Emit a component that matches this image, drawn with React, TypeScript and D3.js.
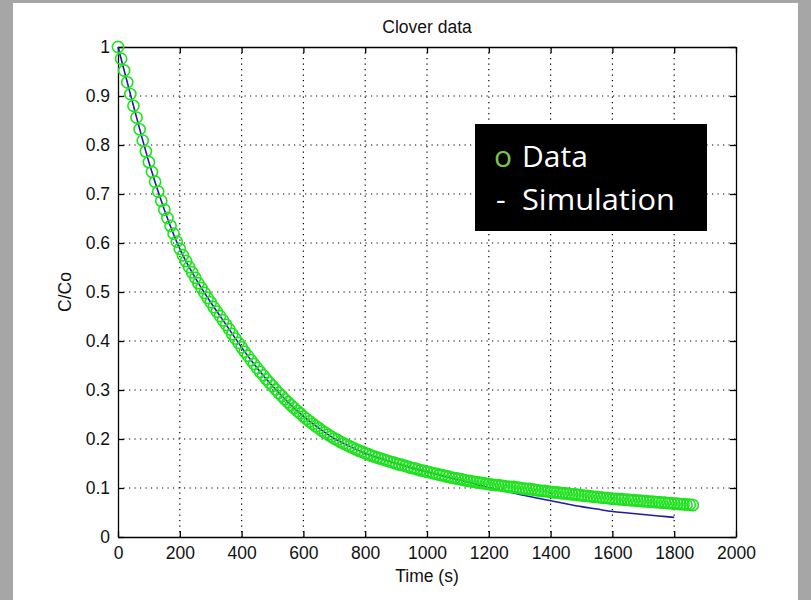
import { useEffect, useRef } from "react";
import * as d3 from "d3";

// measured data (C/Co vs time, every 10 s)
const dataTime = [
  0, 10, 20, 30, 40, 50, 60, 70, 80, 90, 100, 110, 120, 130, 140, 150, 160, 170, 180, 190,
  200, 210, 220, 230, 240, 250, 260, 270, 280, 290, 300, 310, 320, 330, 340, 350, 360, 370, 380, 390,
  400, 410, 420, 430, 440, 450, 460, 470, 480, 490, 500, 510, 520, 530, 540, 550, 560, 570, 580, 590,
  600, 610, 620, 630, 640, 650, 660, 670, 680, 690, 700, 710, 720, 730, 740, 750, 760, 770, 780, 790,
  800, 810, 820, 830, 840, 850, 860, 870, 880, 890, 900, 910, 920, 930, 940, 950, 960, 970, 980, 990,
  1000, 1010, 1020, 1030, 1040, 1050, 1060, 1070, 1080, 1090, 1100, 1110, 1120, 1130, 1140, 1150, 1160, 1170, 1180, 1190,
  1200, 1210, 1220, 1230, 1240, 1250, 1260, 1270, 1280, 1290, 1300, 1310, 1320, 1330, 1340, 1350, 1360, 1370, 1380, 1390,
  1400, 1410, 1420, 1430, 1440, 1450, 1460, 1470, 1480, 1490, 1500, 1510, 1520, 1530, 1540, 1550, 1560, 1570, 1580, 1590,
  1600, 1610, 1620, 1630, 1640, 1650, 1660, 1670, 1680, 1690, 1700, 1710, 1720, 1730, 1740, 1750, 1760, 1770, 1780, 1790,
  1800, 1810, 1820, 1830, 1840, 1850, 1860,
];
const dataValue = [
  1.0, 0.976, 0.952, 0.928, 0.904, 0.88, 0.856, 0.832, 0.809, 0.787, 0.765, 0.745, 0.725, 0.705, 0.686, 0.668, 0.651, 0.635, 0.619, 0.603,
  0.588, 0.575, 0.563, 0.551, 0.54, 0.529, 0.518, 0.508, 0.498, 0.488, 0.479, 0.469, 0.46, 0.451, 0.442, 0.433, 0.424, 0.414, 0.405, 0.396,
  0.387, 0.378, 0.37, 0.361, 0.353, 0.345, 0.337, 0.33, 0.322, 0.315, 0.308, 0.301, 0.294, 0.288, 0.281, 0.275, 0.269, 0.263, 0.257, 0.252,
  0.246, 0.241, 0.236, 0.231, 0.226, 0.222, 0.217, 0.213, 0.209, 0.205, 0.201, 0.198, 0.194, 0.191, 0.188, 0.185, 0.182, 0.179, 0.176, 0.174,
  0.171, 0.169, 0.166, 0.164, 0.162, 0.16, 0.158, 0.156, 0.154, 0.152, 0.15, 0.148, 0.147, 0.145, 0.143, 0.141, 0.14, 0.138, 0.136, 0.135,
  0.133, 0.132, 0.13, 0.129, 0.127, 0.126, 0.124, 0.123, 0.121, 0.12, 0.119, 0.118, 0.116, 0.115, 0.114, 0.113, 0.112, 0.111, 0.11, 0.109,
  0.108, 0.107, 0.106, 0.106, 0.105, 0.104, 0.103, 0.102, 0.102, 0.101, 0.1, 0.099, 0.098, 0.098, 0.097, 0.096, 0.095, 0.094, 0.094, 0.093,
  0.092, 0.091, 0.091, 0.09, 0.089, 0.089, 0.088, 0.087, 0.087, 0.086, 0.085, 0.084, 0.084, 0.083, 0.082, 0.082, 0.081, 0.08, 0.08, 0.079,
  0.078, 0.078, 0.077, 0.077, 0.076, 0.076, 0.075, 0.075, 0.074, 0.074, 0.073, 0.073, 0.072, 0.072, 0.071, 0.071, 0.07, 0.07, 0.069, 0.069,
  0.068, 0.068, 0.067, 0.067, 0.066, 0.066, 0.065,
];

// simulation curve
const simTime = [
  0, 50, 100, 150, 200, 250, 300, 350, 400, 450, 500, 550, 600, 650, 700, 750, 800, 850, 900, 950,
  1000, 1050, 1100, 1150, 1200, 1250, 1300, 1350, 1400, 1450, 1500, 1550, 1600, 1650, 1700, 1750, 1800,
];
const simValue = [
  1.0, 0.88, 0.765, 0.668, 0.588, 0.529, 0.479, 0.433, 0.387, 0.345, 0.308, 0.275, 0.246, 0.222, 0.201, 0.185, 0.171, 0.16, 0.15, 0.141,
  0.133, 0.125, 0.117, 0.109, 0.101, 0.094, 0.087, 0.08, 0.074, 0.068, 0.062, 0.057, 0.052, 0.049, 0.046, 0.043, 0.04,
];

const xTicks = [0, 200, 400, 600, 800, 1000, 1200, 1400, 1600, 1800, 2000];
const yTicks = [0, 0.1, 0.2, 0.3, 0.4, 0.5, 0.6, 0.7, 0.8, 0.9, 1];

const W = 811;
const H = 600;
const FONT = "'Liberation Sans', Arial, sans-serif";
const LEGEND_FONT = "'Open Sans', 'Noto Sans', sans-serif";

export default function App() {
  const ref = useRef<SVGSVGElement | null>(null);

  useEffect(() => {
    const svg = d3.select(ref.current);
    svg.selectAll("*").remove();

    const left = 118, right = 736, top = 47, bottom = 537;
    const x = d3.scaleLinear().domain([0, 2000]).range([left, right]);
    const y = d3.scaleLinear().domain([0, 1]).range([bottom, top]);

    // slide background: grey frame, white page
    svg.append("rect").attr("width", W).attr("height", H).attr("fill", "#a6a6a6");
    svg.append("rect").attr("x", 13).attr("y", 3).attr("width", 785).attr("height", H - 3).attr("fill", "#ffffff");

    // dotted grid
    const grid = svg.append("g").attr("stroke", "#000").attr("stroke-width", 1.2).attr("stroke-dasharray", "1.2,4.3");
    grid.selectAll("line.v").data(xTicks.slice(1, -1)).join("line")
      .attr("x1", (d) => x(d)).attr("x2", (d) => x(d)).attr("y1", top).attr("y2", bottom);
    grid.selectAll("line.h").data(yTicks.slice(1, -1)).join("line")
      .attr("class", "h")
      .attr("y1", (d) => y(d)).attr("y2", (d) => y(d)).attr("x1", left).attr("x2", right);

    // axes (ticks point inward, box on)
    const styleAxis = (g: any) => {
      g.selectAll("path").attr("stroke", "#000").attr("stroke-width", 1.3);
      g.selectAll("line").attr("stroke", "#000").attr("stroke-width", 1.3);
      g.selectAll("text").attr("fill", "#111").attr("font-family", FONT).attr("font-size", 17.5);
    };
    svg.append("g").attr("transform", `translate(0,${bottom})`)
      .call(d3.axisBottom(x).tickValues(xTicks).tickSizeInner(-6).tickSizeOuter(0).tickPadding(10).tickFormat(d3.format("d")))
      .call(styleAxis);
    svg.append("g").attr("transform", `translate(${left},0)`)
      .call(d3.axisLeft(y).tickValues(yTicks).tickSizeInner(-6).tickSizeOuter(0).tickPadding(8).tickFormat((d: any) => String(+d)))
      .call(styleAxis);
    svg.append("g").attr("transform", `translate(0,${top})`)
      .call(d3.axisTop(x).tickValues(xTicks).tickSizeInner(-6).tickSizeOuter(0).tickFormat(() => ""))
      .call(styleAxis);
    svg.append("g").attr("transform", `translate(${right},0)`)
      .call(d3.axisRight(y).tickValues(yTicks).tickSizeInner(-6).tickSizeOuter(0).tickFormat(() => ""))
      .call(styleAxis);

    // simulation line
    const sim = simTime.map((t, i) => [t, simValue[i]] as [number, number]);
    svg.append("path").datum(sim)
      .attr("fill", "none").attr("stroke", "#1c1ca8").attr("stroke-width", 1.6)
      .attr("d", d3.line<[number, number]>().x((d) => x(d[0])).y((d) => y(d[1])).curve(d3.curveMonotoneX));

    // data markers
    const pts = dataTime.map((t, i) => [t, dataValue[i]] as [number, number]);
    svg.append("g").selectAll("circle").data(pts).join("circle")
      .attr("cx", (d) => x(d[0])).attr("cy", (d) => y(d[1])).attr("r", 5.6)
      .attr("fill", "none").attr("stroke", "#1fe21f").attr("stroke-width", 1.6);

    // titles
    svg.append("text").attr("x", (left + right) / 2).attr("y", 33).attr("text-anchor", "middle")
      .attr("font-family", FONT).attr("font-size", 17.5).attr("fill", "#111").text("Clover data");
    svg.append("text").attr("x", (left + right) / 2).attr("y", 582).attr("text-anchor", "middle")
      .attr("font-family", FONT).attr("font-size", 17.5).attr("fill", "#111").text("Time (s)");
    svg.append("text").attr("transform", `translate(71,${(top + bottom) / 2}) rotate(-90)`).attr("text-anchor", "middle")
      .attr("font-family", FONT).attr("font-size", 17.5).attr("fill", "#111").text("C/Co");

    // legend box (pasted label)
    const lg = svg.append("g");
    lg.append("rect").attr("x", 475).attr("y", 124).attr("width", 232).attr("height", 107).attr("fill", "#000");
    const t1 = lg.append("text").attr("x", 494).attr("y", 167).attr("font-family", LEGEND_FONT).attr("font-size", 30).attr("fill", "#fff");
    t1.append("tspan").attr("fill", "#7cc540").text("o");
    t1.append("tspan").attr("x", 522).text("Data");
    const t2 = lg.append("text").attr("x", 496).attr("y", 210).attr("font-family", LEGEND_FONT).attr("font-size", 30).attr("fill", "#fff");
    t2.append("tspan").text("-");
    t2.append("tspan").attr("x", 522).attr("textLength", 153).attr("lengthAdjust", "spacingAndGlyphs").text("Simulation");
  }, []);

  return <svg ref={ref} width={W} height={H} style={{ position: "absolute", left: 0, top: 0 }} />;
}
